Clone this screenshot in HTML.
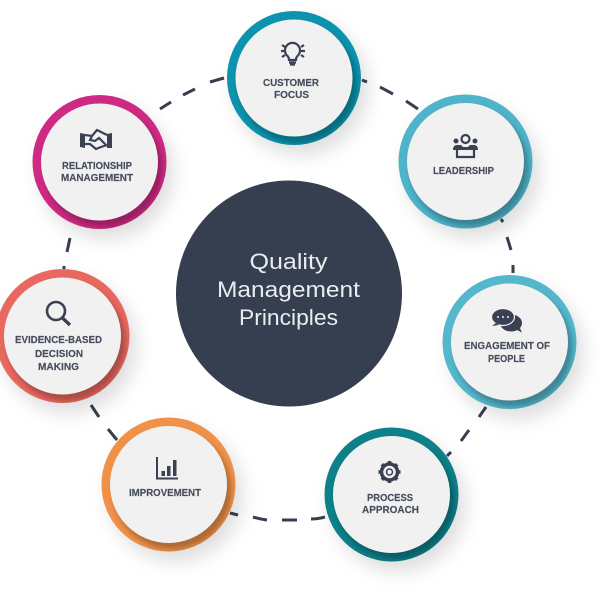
<!DOCTYPE html>
<html><head><meta charset="utf-8"><style>
html,body{margin:0;padding:0;background:#fff;width:600px;height:600px;overflow:hidden}
svg{display:block}
.t{font-family:"Liberation Sans",sans-serif;font-weight:700;font-size:10.5px;fill:#474c5c;stroke:#474c5c;stroke-width:.15}
.c{font-family:"Liberation Sans",sans-serif;font-size:22px;fill:#e9ecf0}
.d{stroke:#353f50;stroke-width:3;fill:none}
.i{fill:#3a4152}
.s{fill:none;stroke:#3a4152;stroke-width:2.2}
</style></head><body>
<svg width="600" height="600" viewBox="0 0 600 600" xmlns="http://www.w3.org/2000/svg">
<defs>
<filter id="ds" x="-40%" y="-40%" width="190%" height="190%"><feDropShadow dx="7" dy="10" stdDeviation="9" flood-color="#000" flood-opacity=".13"/></filter>
<filter id="b" x="-30%" y="-30%" width="160%" height="160%"><feGaussianBlur stdDeviation="3"/></filter>
<clipPath id="cp"><circle r="67.3"/></clipPath>
<g id="top">
<g clip-path="url(#cp)"><circle cx="4" cy="6" r="59" fill="#000" opacity=".27" filter="url(#b)"/></g>
<circle r="58.5" fill="#f1f1f2"/>
</g>
</defs>
<rect width="600" height="600" fill="#fff"/>

<g class="d">
<path d="M183 95L195 89M210 82L224 78"/>
<path d="M160 109L171 102"/>
<path d="M362 80L367 82M380 87L393 94M406 101L418 109"/>
<path d="M501 219L503 222M507 237L511 250M513 265L513 273"/>
<path d="M486 407L479 417M469 430L461 441M451 452L447 456"/>
<path d="M325 517Q318 519 311 519M297 520L282 520M267 520Q260 519 253 517M238 515L230 513"/>
<path d="M117 440L108 429M99 417L91 405"/>
<path d="M64 269L64 266M70 238L67 252"/>
</g>

<circle cx="289" cy="293.5" r="113" fill="#353f50"/>
<text class="c" x="288.500" y="269" text-anchor="middle" textLength="78" lengthAdjust="spacingAndGlyphs">Quality</text>
<text class="c" x="288.500" y="297" text-anchor="middle" textLength="143" lengthAdjust="spacingAndGlyphs">Management</text>
<text class="c" x="288.500" y="325" text-anchor="middle" textLength="99" lengthAdjust="spacingAndGlyphs">Principles</text>

<g transform="translate(294 78)"><circle r="67" fill="#0f93ad" filter="url(#ds)"/><use href="#top"/></g>
<g transform="translate(465.500 161.500)"><circle r="67" fill="#4fb3c9" filter="url(#ds)"/><use href="#top"/></g>
<g transform="translate(99.500 162)"><circle r="67" fill="#cf2a83" filter="url(#ds)"/><use href="#top"/></g>
<g transform="translate(62.500 336)"><circle r="67" fill="#e8685f" filter="url(#ds)"/><use href="#top"/></g>
<g transform="translate(168.500 484.500)"><circle r="67" fill="#f0914a" filter="url(#ds)"/><use href="#top"/></g>
<g transform="translate(391.500 494.500)"><circle r="67" fill="#0f808a" filter="url(#ds)"/><use href="#top"/></g>
<g transform="translate(509.500 342)"><circle r="67" fill="#55b7cc" filter="url(#ds)"/><use href="#top"/></g>

<text class="t" x="263" y="86" textLength="56" lengthAdjust="spacingAndGlyphs">CUSTOMER</text>
<text class="t" x="274" y="98" textLength="35" lengthAdjust="spacingAndGlyphs">FOCUS</text>
<text class="t" x="433" y="174" textLength="61" lengthAdjust="spacingAndGlyphs">LEADERSHIP</text>
<text class="t" x="62" y="169" textLength="70" lengthAdjust="spacingAndGlyphs">RELATIONSHIP</text>
<text class="t" x="61" y="181" textLength="72" lengthAdjust="spacingAndGlyphs">MANAGEMENT</text>
<text class="t" x="15" y="343" textLength="87" lengthAdjust="spacingAndGlyphs">EVIDENCE-BASED</text>
<text class="t" x="35" y="357" textLength="48" lengthAdjust="spacingAndGlyphs">DECISION</text>
<text class="t" x="38" y="370" textLength="41" lengthAdjust="spacingAndGlyphs">MAKING</text>
<text class="t" x="129" y="496" textLength="72" lengthAdjust="spacingAndGlyphs">IMPROVEMENT</text>
<text class="t" x="367" y="501" textLength="46" lengthAdjust="spacingAndGlyphs">PROCESS</text>
<text class="t" x="362" y="513" textLength="57" lengthAdjust="spacingAndGlyphs">APPROACH</text>
<text class="t" x="464" y="349" textLength="86" lengthAdjust="spacingAndGlyphs">ENGAGEMENT OF</text>
<text class="t" x="488" y="362" textLength="37" lengthAdjust="spacingAndGlyphs">PEOPLE</text>

<!-- bulb -->
<g class="s" stroke-width="2">
<path d="M289 60Q289 57 287 55.500A7.500 7.500 0 1 1 298 55.500Q296 57 296 60Z"/>
<path d="M289 62.500H296M290 64.500H295"/>
<path d="M281 51H284M301 51H305M282 45L285 47M304 45L301 47M282 57L285 55M304 57L301 55"/>
</g>

<!-- leadership -->
<g>
<circle class="s" cx="465.500" cy="139" r="4"/>
<circle class="i" cx="456" cy="141" r="2.500"/><circle class="i" cx="475" cy="141" r="2.500"/>
<path class="i" d="M453 150Q453 145 457 145L461 145 463 147H468L470 145 474 145Q478 145 478 150Z"/>
<path class="s" d="M457 150V157H474V150"/>
</g>

<!-- handshake -->
<g>
<path class="i" d="M80 133L85 134V148L80 147Z M107 134L112 133V148L107 148Z"/>
<path class="s" d="M85 135L92 136 97 130 107 135M107 145L101 147 96 149 90 144 85 144M92 136L90 140 95 141 99 138 106 145"/>
</g>

<!-- magnifier -->
<g>
<circle cx="56" cy="311" r="9" fill="none" stroke="#3a4152" stroke-width="2.600"/>
<path d="M62.500 318L70 325" stroke="#3a4152" stroke-width="3.400" fill="none"/>
</g>

<!-- chart -->
<g class="i">
<path d="M156 457H158V477.500H178V479.500H156Z"/>
<rect x="161.500" y="471" width="3.500" height="5"/>
<rect x="167" y="466" width="3.500" height="10"/>
<rect x="173" y="460" width="3.500" height="16"/>
</g>

<!-- gear -->
<g>
<circle cx="389.500" cy="472" r="8" fill="none" stroke="#3a4152" stroke-width="3.500"/>
<circle cx="389.500" cy="472" r="3" fill="none" stroke="#3a4152" stroke-width="1.500"/>
<g stroke="#3a4152" stroke-width="3.600" fill="none">
<path d="M389.500 461V464M389.500 480V483M378.500 472H381.500M397.500 472H400.500M381.800 464.300L384 466.500M395 477.500L397.200 479.700M397.200 464.300L395 466.500M384 477.500L381.800 479.700"/>
</g>
</g>

<!-- chat -->
<g>
<ellipse class="i" cx="511" cy="323" rx="11" ry="8.500"/>
<path class="i" d="M515 329L522 332.500 519 326Z"/>
<ellipse class="i" cx="503" cy="317" rx="11.500" ry="8.500" stroke="#f1f1f2" stroke-width="1.200"/>
<path class="i" d="M496 323L492 326 499 325Z"/>
<circle cx="498" cy="317" r="1" fill="#f1f1f2"/><circle cx="503" cy="317" r="1" fill="#f1f1f2"/><circle cx="508" cy="317" r="1" fill="#f1f1f2"/>
</g>
</svg>
</body></html>
